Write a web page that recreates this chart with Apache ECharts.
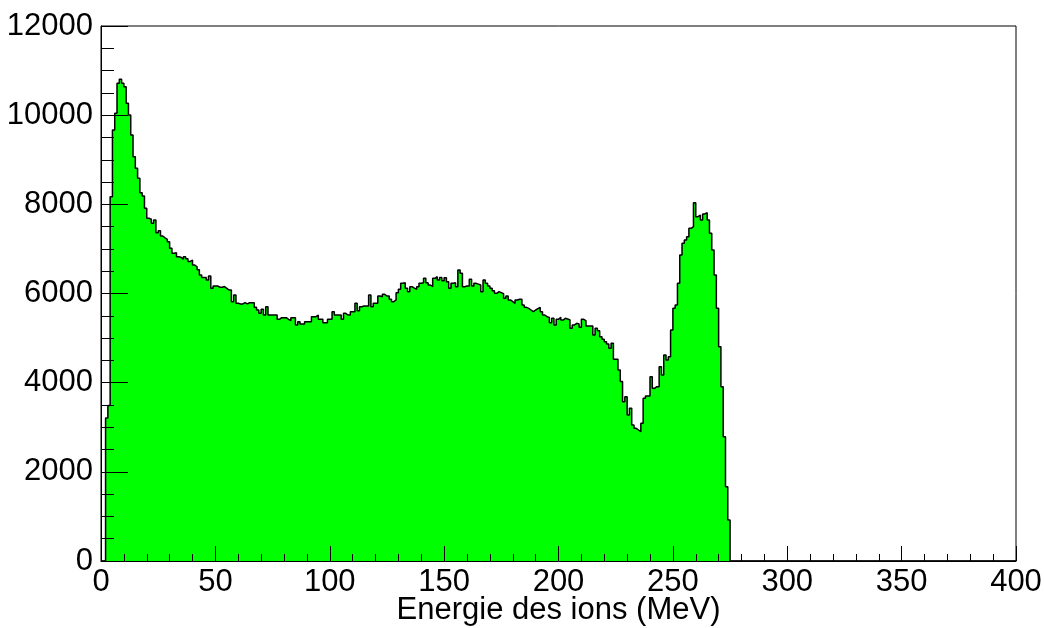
<!DOCTYPE html>
<html>
<head>
<meta charset="utf-8">
<script src="https://cdn.jsdelivr.net/npm/echarts@6/dist/echarts.min.js"></script>
<style>
html,body{margin:0;padding:0;background:#fff;}
#chart{width:1044px;height:628px;}
</style>
</head>
<body>
<div id="chart"></div>
<script>
// Histogram: 1 MeV bins starting at 0 MeV; counts[k] is bin [k, k+1)
const binWidth = 1;
const xMin = 0, xMax = 400;
const yMin = 0, yMax = 12000;
const xTitle = "Energie des ions (MeV)";
const counts = [
  0, 0, 3210, 3490, 8172, 9668, 10043, 10716, 10805, 10716,
  10640, 10267, 10005, 9556, 9070, 8809, 8585, 8262, 8188, 7912,
  7687, 7665, 7575, 7650, 7365, 7410, 7290, 7250, 7216, 7163,
  7013, 6901, 6916, 6826, 6811, 6768, 6826, 6780, 6720, 6750,
  6640, 6600, 6530, 6415, 6360, 6360, 6303, 6393, 6117, 6169,
  6169, 6140, 6140, 6155, 6117, 6079, 6079, 5817, 5967, 5780,
  5765, 5765, 5795, 5765, 5795, 5795, 5795, 5690, 5630, 5556,
  5646, 5518, 5704, 5518, 5518, 5518, 5518, 5421, 5458, 5458,
  5458, 5421, 5390, 5458, 5458, 5294, 5368, 5316, 5316, 5368,
  5368, 5368, 5480, 5480, 5518, 5421, 5421, 5346, 5346, 5421,
  5421, 5592, 5518, 5518, 5518, 5421, 5556, 5518, 5518, 5592,
  5592, 5780, 5615, 5704, 5720, 5720, 5720, 5967, 5704, 5780,
  5780, 5944, 5929, 5982, 5944, 5944, 5870, 5817, 5855, 6019,
  6094, 6228, 6243, 6117, 6041, 6153, 6120, 6094, 6153, 6228,
  6243, 6341, 6243, 6191, 6153, 6341, 6378, 6303, 6360, 6288,
  6355, 6266, 6117, 6228, 6243, 6153, 6528, 6453, 6153, 6168,
  6168, 6318, 6168, 6228, 6210, 6191, 6041, 6303, 6228, 6170,
  6117, 6064, 6005, 6041, 6020, 5997, 5892, 5944, 5855, 5817,
  5780, 5855, 5870, 5870, 5742, 5690, 5667, 5630, 5592, 5630,
  5660, 5690, 5592, 5518, 5480, 5465, 5346, 5443, 5294, 5421,
  5465, 5405, 5443, 5430, 5405, 5219, 5294, 5331, 5316, 5241,
  5421, 5391, 5271, 5271, 5271, 5069, 5219, 5167, 5032, 4972,
  4920, 4867, 4770, 4882, 4524, 4524, 4285, 4024, 3574, 3686,
  3275, 3425, 3051, 2976, 2938, 2901, 3088, 3649, 3701, 3701,
  4134, 3874, 3910, 3910, 4359, 4172, 4621, 4509, 4583, 5182,
  5668, 5742, 6229, 6864, 7126, 7201, 7275, 7463, 7500, 8038,
  7724, 7761, 7649, 7784, 7813, 7649, 7350, 6976, 6415, 5668,
  4807, 3910, 2788, 1667, 920
];

// step points at bin lower edges, closed at the end
const points = counts.map((c, k) => [xMin + k * binWidth, c]);
points.push([xMin + counts.length * binWidth, 0]);
points.push([xMax, 0]);

const FONT = "'Liberation Sans', Arial, Helvetica, sans-serif";
const FS = 31;
const chart = echarts.init(document.getElementById('chart'), null, {renderer: 'canvas'});
chart.setOption({
  animation: false,
  backgroundColor: '#ffffff',
  grid: {
    left: 101, right: 28, top: 26, bottom: 67,
    containLabel: false, outerBoundsMode: 'none',
    show: true, borderColor: '#000', borderWidth: 1, backgroundColor: 'transparent'
  },
  xAxis: {
    type: 'value', min: xMin, max: xMax, interval: 50, z: 10,
    name: xTitle, nameLocation: 'middle', nameGap: 34, nameMoveOverlap: false,
    nameTextStyle: {fontFamily: FONT, fontSize: FS, color: '#000'},
    axisLine: {show: true, onZero: false, lineStyle: {color: '#000', width: 1}},
    axisTick: {show: true, inside: true, length: 15, lineStyle: {color: '#000', width: 1}},
    minorTick: {show: true, splitNumber: 5, length: 7, lineStyle: {color: '#000', width: 1}},
    splitLine: {show: false},
    axisLabel: {fontFamily: FONT, fontSize: FS, color: '#000', margin: 6, formatter: v => String(v)}
  },
  yAxis: {
    type: 'value', min: yMin, max: yMax, interval: 2000, z: 10,
    axisLine: {show: true, lineStyle: {color: '#000', width: 1}},
    axisTick: {show: true, inside: true, length: 27, lineStyle: {color: '#000', width: 1}},
    minorTick: {show: true, splitNumber: 4, length: 13, lineStyle: {color: '#000', width: 1}},
    splitLine: {show: false},
    axisLabel: {fontFamily: FONT, fontSize: FS, color: '#000', margin: 8, formatter: v => String(v)}
  },
  series: [{
    type: 'line',
    data: points,
    step: 'end',
    symbol: 'none',
    lineStyle: {color: '#000', width: 1.5},
    areaStyle: {color: '#00ff00', opacity: 1, origin: 'start'},
    z: 1
  }]
});
</script>
</body>
</html>
